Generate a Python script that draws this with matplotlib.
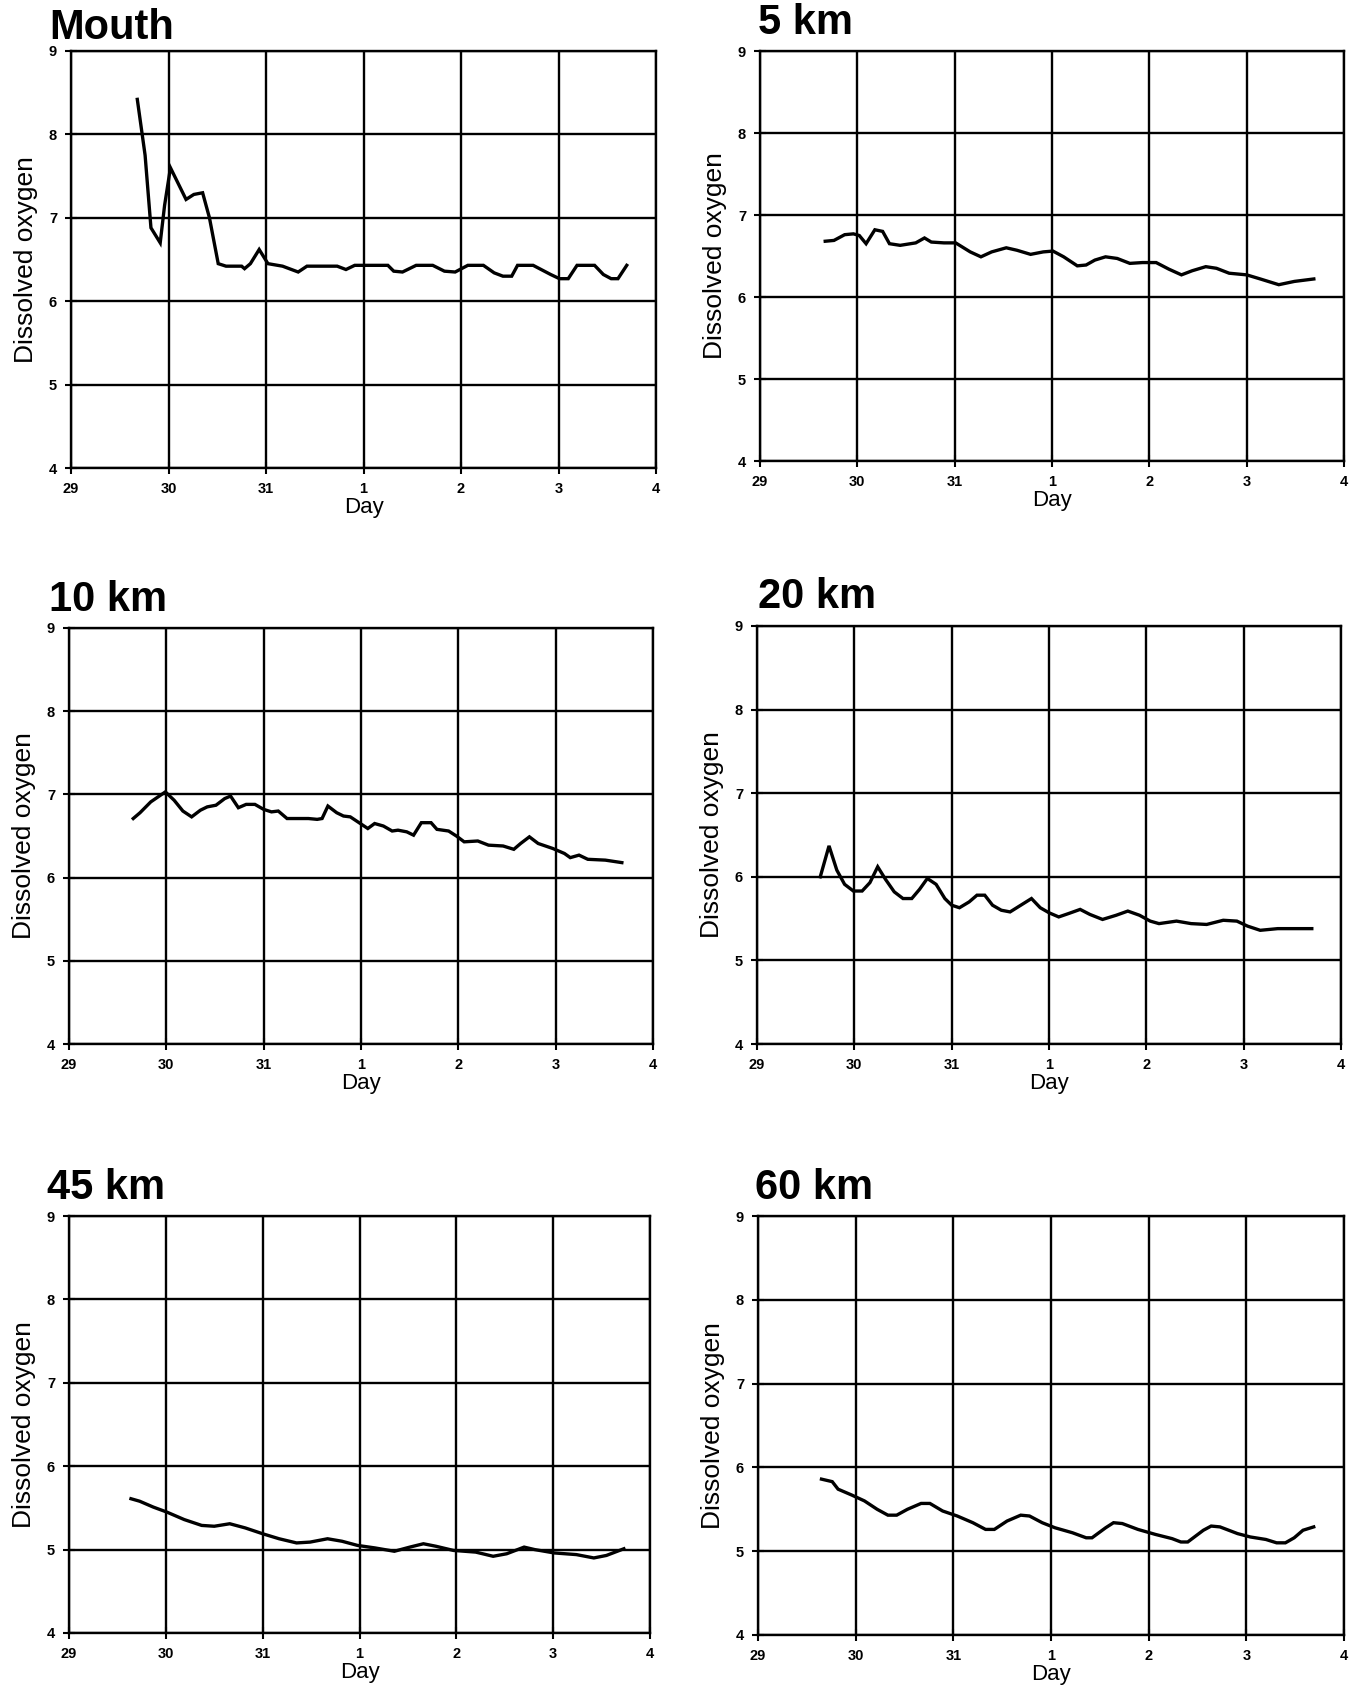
"""Dissolved oxygen time series at six stations along the estuary."""

import matplotlib

matplotlib.use("Agg")
import matplotlib.pyplot as plt

plt.rcParams["font.family"] = ["Liberation Sans", "DejaVu Sans"]

W, H = 1358, 1691

# x is measured in days from the start of the 29th
DAY_TICKS = [0, 1, 2, 3, 4, 5, 6]
DAY_LABELS = ["29", "30", "31", "1", "2", "3", "4"]
DO_TICKS = [4, 5, 6, 7, 8, 9]

MOUTH_T = [0.68, 0.76, 0.82, 0.915, 0.96, 1.02, 1.18, 1.26, 1.35, 1.42, 1.51,
           1.59, 1.75, 1.78, 1.84, 1.93, 2.02, 2.17, 2.33, 2.42, 2.73, 2.82,
           2.91, 3.25, 3.31, 3.40, 3.54, 3.71, 3.83, 3.94, 4.07, 4.23, 4.34,
           4.43, 4.52, 4.58, 4.74, 4.92, 5.01, 5.10, 5.19, 5.37, 5.46, 5.54,
           5.61, 5.70]
MOUTH_DO = [8.42, 7.75, 6.88, 6.70, 7.15, 7.60, 7.22, 7.28, 7.30, 7.00, 6.45,
            6.42, 6.42, 6.39, 6.45, 6.62, 6.45, 6.42, 6.35, 6.42, 6.42, 6.38,
            6.43, 6.43, 6.36, 6.35, 6.43, 6.43, 6.36, 6.35, 6.43, 6.43, 6.34,
            6.30, 6.30, 6.43, 6.43, 6.32, 6.27, 6.27, 6.43, 6.43, 6.32, 6.27,
            6.27, 6.43]

KM5_T = [0.67, 0.76, 0.87, 0.96, 1.02, 1.09, 1.18, 1.26, 1.33, 1.44, 1.60,
         1.69, 1.76, 1.89, 2.01, 2.16, 2.27, 2.38, 2.53, 2.64, 2.78, 2.91,
         3.01, 3.12, 3.26, 3.35, 3.44, 3.55, 3.67, 3.80, 3.93, 4.07, 4.20,
         4.33, 4.44, 4.58, 4.69, 4.82, 5.00, 5.14, 5.33, 5.49, 5.69]
KM5_DO = [6.68, 6.69, 6.76, 6.77, 6.75, 6.65, 6.82, 6.80, 6.65, 6.63, 6.66,
          6.72, 6.67, 6.66, 6.66, 6.55, 6.49, 6.55, 6.60, 6.57, 6.52, 6.55,
          6.56, 6.49, 6.38, 6.39, 6.45, 6.49, 6.47, 6.41, 6.42, 6.42, 6.34,
          6.27, 6.32, 6.37, 6.35, 6.29, 6.27, 6.22, 6.15, 6.19, 6.22]

KM10_T = [0.66, 0.73, 0.84, 0.99, 1.08, 1.17, 1.26, 1.35, 1.42, 1.51, 1.60,
          1.66, 1.74, 1.82, 1.91, 2.00, 2.08, 2.15, 2.24, 2.38, 2.46, 2.55,
          2.60, 2.66, 2.75, 2.82, 2.89, 2.98, 3.07, 3.14, 3.23, 3.32, 3.38,
          3.47, 3.54, 3.62, 3.72, 3.78, 3.90, 3.98, 4.06, 4.20, 4.31, 4.46,
          4.57, 4.64, 4.73, 4.82, 4.97, 5.09, 5.15, 5.24, 5.33, 5.51, 5.68]
KM10_DO = [6.71, 6.78, 6.91, 7.03, 6.93, 6.80, 6.73, 6.81, 6.85, 6.87, 6.95,
           6.98, 6.84, 6.88, 6.88, 6.82, 6.79, 6.80, 6.71, 6.71, 6.71, 6.70,
           6.71, 6.86, 6.78, 6.74, 6.73, 6.66, 6.59, 6.65, 6.62, 6.56, 6.57,
           6.55, 6.51, 6.66, 6.66, 6.58, 6.56, 6.50, 6.43, 6.44, 6.39, 6.38,
           6.34, 6.41, 6.49, 6.41, 6.35, 6.29, 6.24, 6.27, 6.22, 6.21, 6.18]

KM20_T = [0.65, 0.74, 0.82, 0.90, 0.99, 1.08, 1.16, 1.24, 1.32, 1.41, 1.50,
          1.59, 1.67, 1.75, 1.84, 1.93, 2.00, 2.08, 2.18, 2.26, 2.34, 2.42,
          2.51, 2.60, 2.71, 2.82, 2.91, 3.00, 3.10, 3.20, 3.32, 3.42, 3.55,
          3.69, 3.81, 3.93, 4.04, 4.13, 4.31, 4.46, 4.62, 4.79, 4.93, 5.04,
          5.17, 5.35, 5.70]
KM20_DO = [6.00, 6.37, 6.08, 5.91, 5.83, 5.83, 5.93, 6.12, 5.97, 5.82, 5.74,
           5.74, 5.85, 5.98, 5.91, 5.74, 5.66, 5.63, 5.70, 5.78, 5.78, 5.66,
           5.60, 5.58, 5.66, 5.74, 5.63, 5.57, 5.52, 5.56, 5.61, 5.55, 5.49,
           5.54, 5.59, 5.54, 5.47, 5.44, 5.47, 5.44, 5.43, 5.48, 5.47, 5.41,
           5.36, 5.38, 5.38]

KM45_T = [0.64, 0.73, 0.87, 1.01, 1.19, 1.37, 1.50, 1.66, 1.82, 2.00, 2.17,
          2.35, 2.49, 2.67, 2.82, 2.98, 3.16, 3.36, 3.52, 3.66, 3.79, 3.97,
          4.20, 4.38, 4.52, 4.70, 4.81, 5.01, 5.24, 5.42, 5.55, 5.73]
KM45_DO = [5.61, 5.58, 5.51, 5.45, 5.36, 5.29, 5.28, 5.31, 5.26, 5.19, 5.13,
           5.08, 5.09, 5.13, 5.10, 5.05, 5.02, 4.98, 5.03, 5.07, 5.04, 4.99,
           4.97, 4.92, 4.95, 5.03, 5.00, 4.96, 4.94, 4.90, 4.93, 5.01]

KM60_T = [0.65, 0.76, 0.82, 0.96, 1.09, 1.22, 1.33, 1.42, 1.53, 1.67, 1.76,
          1.89, 2.04, 2.20, 2.33, 2.42, 2.55, 2.69, 2.78, 2.91, 3.04, 3.22,
          3.36, 3.42, 3.56, 3.64, 3.73, 3.89, 4.07, 4.24, 4.33, 4.40, 4.56,
          4.64, 4.73, 4.91, 5.04, 5.20, 5.31, 5.40, 5.49, 5.58, 5.69]
KM60_DO = [5.86, 5.83, 5.74, 5.67, 5.60, 5.50, 5.43, 5.43, 5.50, 5.57, 5.57,
           5.48, 5.42, 5.34, 5.26, 5.26, 5.36, 5.43, 5.42, 5.34, 5.28, 5.22,
           5.16, 5.16, 5.28, 5.34, 5.33, 5.26, 5.20, 5.15, 5.11, 5.11, 5.25,
           5.30, 5.29, 5.21, 5.17, 5.14, 5.10, 5.10, 5.16, 5.25, 5.29]

STATIONS = ["Mouth", "5 km", "10 km", "20 km", "45 km", "60 km"]
SERIES = [(MOUTH_T, MOUTH_DO), (KM5_T, KM5_DO), (KM10_T, KM10_DO),
          (KM20_T, KM20_DO), (KM45_T, KM45_DO), (KM60_T, KM60_DO)]

# panel boxes in pixels (left, top, right, bottom) and title anchor
BOXES = [(71, 51, 656, 468), (760, 51, 1344, 461),
         (69, 628, 653, 1044), (757, 626, 1341, 1044),
         (69, 1216, 650, 1633), (758, 1216, 1344, 1635)]
TITLE_XY = [(49, 28), (758, 23), (49, 600), (758, 597), (47, 1188), (755, 1188)]

fig = plt.figure(figsize=(W / 100, H / 100), dpi=100)

for name, (t, do), (l, top, r, b), (tx, ty) in zip(STATIONS, SERIES, BOXES,
                                                   TITLE_XY):
    ax = fig.add_axes([l / W, 1 - b / H, (r - l) / W, (b - top) / H])
    ax.plot(t, do, color="black", lw=2.4, solid_joinstyle="miter")
    ax.set_xlim(0, 6)
    ax.set_ylim(4, 9)
    ax.set_xticks(DAY_TICKS)
    ax.set_xticklabels(DAY_LABELS)
    ax.set_yticks(DO_TICKS)
    ax.grid(True, color="black", lw=1.7)
    for sp in ax.spines.values():
        sp.set_linewidth(1.7)
    ax.tick_params(direction="inout", length=8, width=1.5, pad=6,
                   labelsize=10.5)
    for lab in ax.get_xticklabels() + ax.get_yticklabels():
        lab.set_fontweight("bold")
    ax.set_xlabel("Day", fontsize=16, labelpad=1)
    ax.set_ylabel("Dissolved oxygen", fontsize=19, labelpad=8)
    fig.text(tx / W, 1 - ty / H, name, fontsize=30,
             fontweight="bold", ha="left", va="center")

fig.savefig("out.png", dpi=100, facecolor="white")
